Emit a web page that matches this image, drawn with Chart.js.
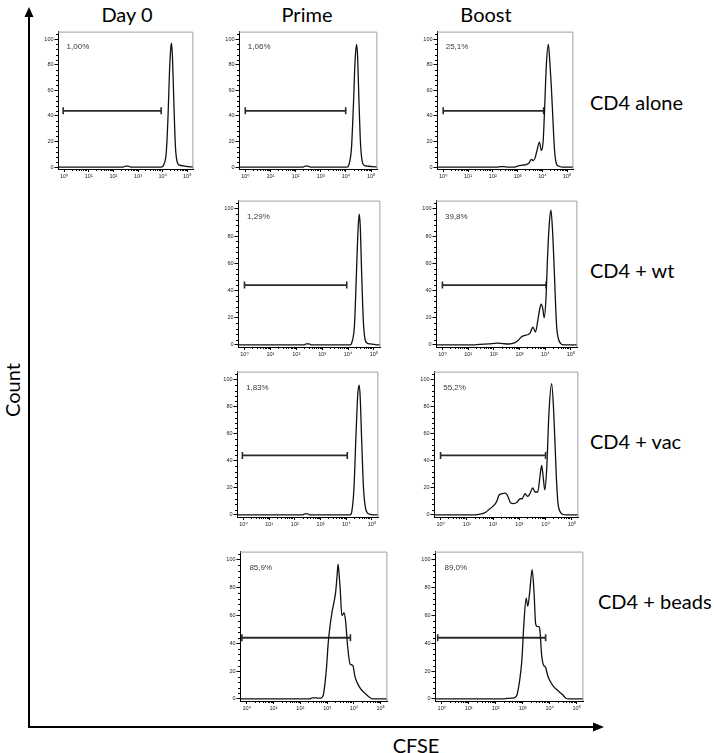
<!DOCTYPE html>
<html>
<head>
<meta charset="utf-8">
<title>CFSE dilution</title>
<script src="https://cdn.jsdelivr.net/npm/chart.js@4.4.1/dist/chart.umd.min.js"></script>
<style>
  body { margin: 0; background: #fff; }
  #fig { position: relative; width: 714px; height: 753px; overflow: hidden; font-family: Lato, "Open Sans", sans-serif; color: #000; }
  .lbl { position: absolute; font-size: 20px; line-height: 1; white-space: nowrap; }
  .mid { transform: translate(-50%, -50%); }
  .left { transform: translate(0, -50%); }
  canvas { position: absolute; }
</style>
</head>
<body>
<div id="fig">
  <svg width="714" height="753" style="position:absolute;left:0;top:0">
    <line x1="29" y1="16" x2="29" y2="728" stroke="#000" stroke-width="2"/>
    <polygon points="29,7 24.5,17 33.5,17" fill="#000"/>
    <line x1="28" y1="727" x2="595" y2="727" stroke="#000" stroke-width="2"/>
    <polygon points="604,727 593,722.5 593,731.5" fill="#000"/>
  </svg>
  <div class="lbl mid" style="left:127px;top:14px">Day 0</div>
  <div class="lbl mid" style="left:307px;top:14px">Prime</div>
  <div class="lbl mid" style="left:486px;top:14px">Boost</div>
  <div class="lbl left" style="left:590px;top:102px">CD4 alone</div>
  <div class="lbl left" style="left:590px;top:270px">CD4 + wt</div>
  <div class="lbl left" style="left:590px;top:441px">CD4 + vac</div>
  <div class="lbl left" style="left:598px;top:601px">CD4 + beads</div>
  <div class="lbl mid" style="left:12px;top:390px;transform:translate(-50%,-50%) rotate(-90deg)">Count</div>
  <div class="lbl mid" style="left:416px;top:745px">CFSE</div>
</div>
<script>
// axis ticks (x is log10 of CFSE intensity)
const xTickValues = [0, 1, 2, 3, 4, 5];
const xTickLabels = ['10⁰', '10¹', '10²', '10³', '10⁴', '10⁵'];
const yTickValues = [0, 20, 40, 60, 80, 100];
const gateLevel = 44;

// histograms: [log10 CFSE, % of max]
const day0Alone = [[-0.25,0],[2.4,0],[2.5,0.8],[2.6,0.8],[2.7,0],[3.95,0],[4.05,2],[4.15,12],[4.22,40],[4.28,75],[4.33,93],[4.36,97],[4.4,86],[4.46,48],[4.52,16],[4.58,5],[4.68,1.5],[4.85,1],[5.05,0.3],[5.25,0]];
const primeAlone = [[-0.25,0],[2.3,0],[2.38,0.8],[2.5,0.8],[2.58,0],[4.05,0],[4.12,2],[4.22,15],[4.3,50],[4.36,82],[4.42,96],[4.46,88],[4.52,50],[4.58,18],[4.64,5],[4.72,1.5],[4.85,0.8],[5.05,0.3],[5.25,0]];
const boostAlone = [[-0.25,0],[2.2,0],[2.3,0.4],[2.45,0.4],[2.6,0],[2.84,0],[3.0,0.8],[3.2,1.5],[3.35,2],[3.45,3],[3.56,6],[3.63,5],[3.7,7],[3.77,12],[3.88,19.5],[3.96,13],[4.03,20],[4.09,46],[4.16,80],[4.24,96],[4.3,82],[4.36,63],[4.43,35],[4.49,13],[4.56,3],[4.65,0.8],[4.8,0],[5.25,0]];
const primeWt = [[-0.25,0],[2.3,0],[2.38,0.8],[2.5,0.8],[2.58,0],[4.08,0],[4.15,2],[4.25,15],[4.32,50],[4.38,82],[4.43,96],[4.47,88],[4.53,50],[4.59,18],[4.65,5],[4.73,1.5],[4.86,0.8],[5.05,0.3],[5.25,0]];
const boostWt = [[-0.25,0],[1.2,0],[1.45,0.5],[1.8,0.8],[2.13,1.3],[2.35,1],[2.57,0.7],[2.82,1.7],[2.95,3.5],[3.08,6],[3.2,7],[3.3,7.5],[3.4,8.5],[3.52,13],[3.62,9.5],[3.71,18],[3.78,26],[3.84,30],[3.9,27],[3.96,20],[4.03,35],[4.09,65],[4.16,90],[4.22,99],[4.28,85],[4.34,60],[4.4,30],[4.45,12],[4.52,4],[4.6,1],[4.75,0],[5.25,0]];
const primeVac = [[-0.25,0],[2.3,0],[2.38,0.8],[2.5,0.8],[2.6,0],[4.15,0],[4.22,3],[4.3,20],[4.38,60],[4.45,90],[4.5,96],[4.54,88],[4.6,55],[4.67,20],[4.74,6],[4.82,1.5],[4.93,0.5],[5.1,0],[5.25,0]];
const boostVac = [[-0.25,0],[1.22,0],[1.4,0.3],[1.59,1],[1.72,2],[1.84,4],[1.97,6],[2.09,8.4],[2.16,11],[2.22,14.5],[2.34,15.7],[2.45,16.2],[2.53,15],[2.6,12],[2.66,9],[2.78,8.4],[2.91,9.4],[3.03,12],[3.1,12],[3.22,15.7],[3.32,13.7],[3.41,16],[3.51,20],[3.6,17],[3.7,17],[3.79,29],[3.85,36.6],[3.91,28],[3.97,18.5],[4.04,33],[4.13,76],[4.23,97],[4.31,76],[4.41,28],[4.47,9],[4.55,2.5],[4.65,0.5],[4.8,0],[5.25,0]];
const primeBeads = [[-0.25,0],[2.35,0],[2.45,0.7],[2.6,0.7],[2.7,0.5],[2.79,0.7],[2.86,3],[2.92,11],[2.98,23],[3.04,40],[3.1,51],[3.18,62],[3.26,70],[3.32,77],[3.37,88],[3.41,97],[3.45,89],[3.49,79],[3.55,60],[3.6,61],[3.63,62],[3.69,56],[3.77,37],[3.86,25],[3.96,24],[4.04,16],[4.14,11],[4.26,7],[4.39,4.5],[4.5,2.5],[4.6,1],[4.7,0],[5.25,0]];
const boostBeads = [[-0.25,0],[2.3,0],[2.4,0.4],[2.6,0.5],[2.73,1.2],[2.79,3],[2.87,11],[2.93,20],[2.97,28],[3.05,56],[3.13,72.5],[3.19,66.6],[3.26,77],[3.35,93],[3.42,77],[3.48,54],[3.55,52],[3.6,52],[3.64,49],[3.7,32],[3.78,24],[3.84,23],[3.94,16],[4.04,12],[4.14,9],[4.3,6],[4.48,3],[4.6,0.5],[4.7,0],[5.25,0]];

// gate ranges [start, end] and gated percentages
const gates = [[-0.04,3.94],[0,3.99],[0,4.05],[0,3.95],[0,4.03],[-0.04,4.04],[0,4.0],[-0.18,3.87],[-0.15,3.85]];
const percents = ['1,00%','1,06%','25,1%','1,29%','39,8%','1,83%','55,2%','85,9%','89,0%'];

const curves = [day0Alone, primeAlone, boostAlone, primeWt, boostWt, primeVac, boostVac, primeBeads, boostBeads];
// plot box in page pixels: left, top, right, bottom
const boxes = [[58,29,196,169],[239,29,380,169],[437,29,576,169],[238,198,383,347],[436,198,580,347],[237,369,381,517],[434,369,581,517],[240,549,390,701],[435,549,586,701]];

const PAD_L = 22, PAD_T = 3, PAD_R = 3, PAD_B = 16;
const fig = document.getElementById('fig');

const framePlugin = {
  id: 'frame',
  afterDraw(chart, args, opts) {
    const ctx = chart.ctx, a = chart.chartArea;
    const x = chart.scales.x, y = chart.scales.y;
    ctx.save();
    ctx.strokeStyle = '#a0a0a0';
    ctx.lineWidth = 1;
    ctx.beginPath();
    ctx.moveTo(a.left, a.top + 0.5); ctx.lineTo(a.right - 0.5, a.top + 0.5); ctx.lineTo(a.right - 0.5, a.bottom);
    ctx.stroke();
    // minor ticks
    ctx.strokeStyle = '#000';
    ctx.beginPath();
    for (let d = 0; d < 5; d++) {
      for (let k = 2; k < 10; k++) {
        const px = Math.round(x.getPixelForValue(d + Math.log10(k))) + 0.5;
        ctx.moveTo(px, a.bottom); ctx.lineTo(px, a.bottom + 2);
      }
    }
    for (let v = 0; v <= 104; v += 4) {
      if (v % 20 === 0) continue;
      const py = Math.round(y.getPixelForValue(v)) + 0.5;
      ctx.moveTo(a.left, py); ctx.lineTo(a.left - 2, py);
    }
    ctx.stroke();
    ctx.fillStyle = '#3a3a3a';
    ctx.font = '8px "Liberation Sans", Arial, sans-serif';
    ctx.textBaseline = 'middle';
    ctx.fillText(opts.text, x.getPixelForValue(0.1), y.getPixelForValue(94));
    ctx.restore();
  }
};

curves.forEach((curve, i) => {
  const [L, T, R, B] = boxes[i];
  const cv = document.createElement('canvas');
  const w = R - L + PAD_L + PAD_R, h = B - T + PAD_T + PAD_B;
  cv.width = w; cv.height = h;
  cv.style.left = (L - PAD_L) + 'px';
  cv.style.top = (T - PAD_T) + 'px';
  cv.style.width = w + 'px'; cv.style.height = h + 'px';
  fig.appendChild(cv);
  const gate = gates[i];
  const tickFont = { size: 5.5, family: '"Liberation Sans", "DejaVu Sans", Arial, sans-serif' };
  new Chart(cv, {
    type: 'line',
    data: {
      datasets: [
        {
          data: curve.map(p => ({ x: p[0], y: p[1] })),
          borderColor: '#111', borderWidth: 1.3, pointRadius: 0,
          cubicInterpolationMode: 'monotone', fill: false
        },
        {
          data: [{ x: gate[0], y: gateLevel }, { x: gate[1], y: gateLevel }],
          borderColor: '#2a2a2a', borderWidth: 1.8,
          pointStyle: 'line', pointRotation: 90, pointRadius: 3.5,
          pointBorderColor: '#2a2a2a', pointBorderWidth: 1.6
        }
      ]
    },
    options: {
      responsive: false, animation: false, devicePixelRatio: 1,
      layout: { padding: { top: PAD_T, right: PAD_R, left: 0, bottom: 0 } },
      plugins: { legend: { display: false }, tooltip: { enabled: false }, frame: { text: percents[i] } },
      scales: {
        x: {
          type: 'linear', min: -0.25, max: 5.25,
          afterBuildTicks: s => { s.ticks = xTickValues.map(v => ({ value: v })); },
          afterFit: s => { s.height = PAD_B; },
          ticks: { font: tickFont, color: '#222', padding: 1, maxRotation: 0, autoSkip: false,
                   callback: v => xTickLabels[xTickValues.indexOf(v)] },
          grid: { drawOnChartArea: false, tickLength: 3, color: '#000' },
          border: { color: '#000', width: 1 }
        },
        y: {
          min: -1.5, max: 106,
          afterBuildTicks: s => { s.ticks = yTickValues.map(v => ({ value: v })); },
          afterFit: s => { s.width = PAD_L; },
          ticks: { font: tickFont, color: '#222', padding: 1, autoSkip: false },
          grid: { drawOnChartArea: false, tickLength: 3.5, color: '#000' },
          border: { color: '#000', width: 1 }
        }
      }
    },
    plugins: [framePlugin]
  });
});
</script>
</body>
</html>
